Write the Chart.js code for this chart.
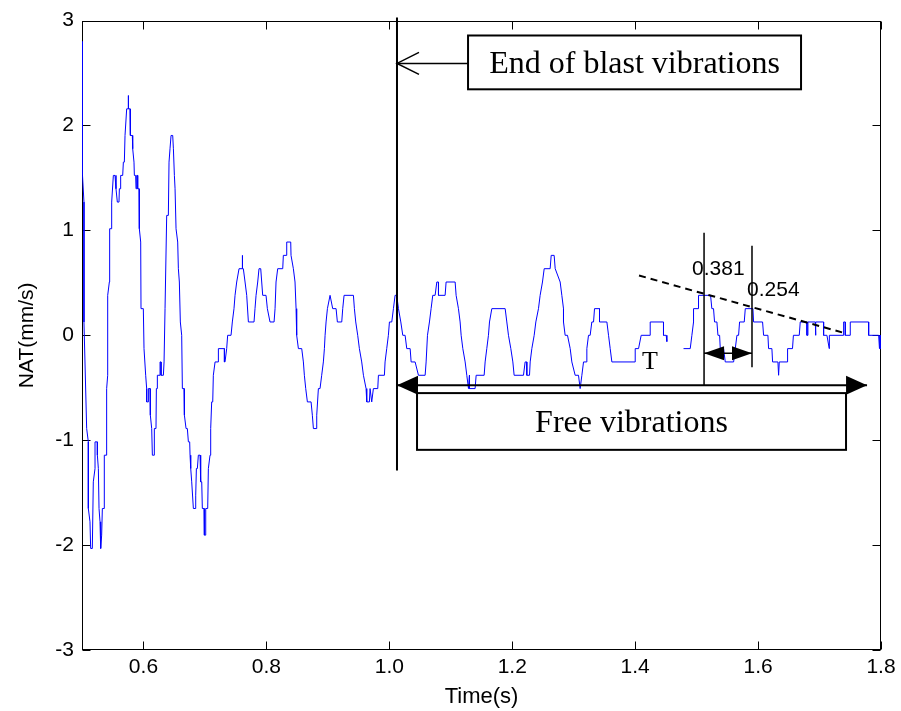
<!DOCTYPE html>
<html>
<head>
<meta charset="utf-8">
<script src="https://cdn.jsdelivr.net/npm/chart.js"></script>
<style>
html,body{margin:0;padding:0;background:#fff;}
canvas{display:block;}
</style>
</head>
<body>
<canvas id="c" width="901" height="711"></canvas>
<script>
// ---- data (time in s, NAT in mm/s) ----
const times = [
0.5004,0.5008,0.5032,0.5032,0.5076,0.5103,0.5103,0.5130,0.5141,0.5168,
0.5184,0.5212,0.5212,0.5250,0.5250,0.5266,0.5277,0.5293,0.5304,0.5320,
0.5331,0.5363,0.5363,0.5391,0.5401,0.5418,0.5418,0.5445,0.5450,0.5472,
0.5483,0.5510,0.5537,0.5553,0.5575,0.5602,0.5608,0.5629,0.5629,0.5662,
0.5673,0.5689,0.5700,0.5727,0.5754,0.5754,0.5756,0.5781,0.5787,0.5819,
0.5825,0.5846,0.5852,0.5873,0.5879,0.5890,0.5906,0.5906,0.5928,0.5933,
0.5955,0.5960,0.5998,0.6009,0.6025,0.6036,0.6052,0.6052,0.6080,0.6080,
0.6107,0.6112,0.6134,0.6145,0.6177,0.6177,0.6204,0.6210,0.6226,0.6226,
0.6270,0.6270,0.6286,0.6286,0.6324,0.6335,0.6351,0.6378,0.6405,0.6416,
0.6432,0.6449,0.6476,0.6487,0.6503,0.6514,0.6530,0.6557,0.6568,0.6584,
0.6600,0.6622,0.6633,0.6660,0.6666,0.6693,0.6714,0.6731,0.6752,0.6758,
0.6769,0.6785,0.6812,0.6839,0.6850,0.6861,0.6877,0.6893,0.6921,0.6931,
0.6948,0.6958,0.6986,0.6991,0.7013,0.7013,0.7045,0.7056,0.7083,0.7094,
0.7110,0.7127,0.7137,0.7165,0.7219,0.7219,0.7317,0.7317,
0.7327,0.7354,0.7370,0.7425,0.7446,0.7473,0.7490,0.7517,0.7555,0.7609,
0.7609,0.7612,0.7625,0.7653,0.7680,0.7707,0.7799,0.7815,0.7832,0.7859,
0.7880,0.7908,0.7924,0.7940,0.7994,0.8016,0.8059,0.8125,0.8141,0.8157,
0.8184,0.8266,0.8276,0.8331,0.8331,0.8396,0.8401,0.8439,0.8466,0.8483,
0.8493,0.8521,0.8575,0.8602,0.8618,0.8640,0.8667,0.8727,0.8748,0.8765,
0.8808,0.8819,0.8846,0.8873,0.8900,0.8927,0.8944,0.8955,0.8971,0.8993,
0.9036,0.9079,0.9134,0.9155,0.9226,0.9242,0.9264,0.9416,0.9432,0.9454,
0.9486,0.9513,0.9551,0.9579,0.9622,0.9633,0.9676,0.9687,0.9714,0.9741,
0.9812,0.9823,0.9920,0.9931,0.9958,0.9985,1.0002,1.0040,1.0067,1.0094,
1.0121,
1.0149,1.0187,1.0219,1.0257,1.0284,1.0339,1.0355,1.0420,1.0474,1.0583,
1.0599,1.0621,1.0653,1.0680,1.0707,1.0745,1.0773,1.0800,1.0800,1.0908,
1.0924,1.1071,1.1087,1.1125,1.1152,1.1169,1.1196,1.1234,1.1261,1.1288,
1.1304,1.1304,1.1396,1.1413,1.1543,1.1559,1.1586,1.1613,1.1630,1.1668,
1.1885,1.1912,1.1939,1.1977,1.2010,1.2031,1.2183,1.2210,1.2237,1.2237,
1.2281,1.2292,1.2319,1.2357,1.2384,1.2427,1.2454,1.2492,1.2520,1.2617,
1.2634,1.2682,1.2699,1.2780,1.2807,1.2834,1.2834,1.2861,1.2899,1.2943,
1.2970,1.3024,1.3078,1.3105,1.3133,1.3160,1.3203,1.3214,1.3241,1.3268,
1.3295,1.3323,1.3339,1.3420,1.3420,1.3540,1.3567,1.3594,1.3621,1.4000,
1.4001,1.4055,1.4098,1.4245,1.4245,1.4461,1.4461,1.4505,1.4516,1.4650,
1.4787,1.4896,1.4923,1.4950,1.4950,1.5031,1.5031,1.5227,1.5248,1.5275,
1.5292,1.5330,1.5347,1.5374,1.5385,1.5439,1.5466,1.5602,1.5629,1.5656,
1.5683,1.5699,1.5775,1.5792,1.5916,1.5927,1.6073,1.6090,1.6160,1.6171,
1.6225,1.6236,1.6323,1.6334,1.6345,1.6480,1.6480,1.6560,1.6575,1.6670,
1.6686,1.6795,1.6795,1.6811,1.6811,1.6931,1.6931,1.6941,1.6941,1.7066,
1.7066,1.7120,1.7158,1.7160,1.7392,1.7392,1.7419,1.7419,1.7500,1.7500,
1.7799,1.7799,1.7962,1.7975,1.7980,1.7985,1.7990,1.7995,1.8000
];
const nat = [
2.80,1.524,1.27,0.127,-0.889,-1.016,-1.651,-1.778,-2.032,-2.032,
-1.397,-1.27,-1.016,-1.016,-1.143,-1.27,-1.651,-1.778,-2.032,-1.905,
-1.651,-1.651,-1.143,-1.143,-0.508,-0.381,0.381,0.508,1.016,1.016,
1.27,1.524,1.524,1.397,1.27,1.27,1.397,1.397,1.524,1.524,
1.651,1.651,1.905,2.159,2.159,2.286,2.159,2.159,1.905,1.905,
1.778,1.651,1.524,1.524,1.397,1.524,1.524,1.397,1.397,1.016,
0.889,0.254,0.254,-0.127,-0.127,-0.381,-0.508,-0.635,-0.635,-0.508,
-0.508,-0.762,-0.889,-1.143,-1.143,-0.889,-0.889,-0.508,-0.508,-0.381,
-0.381,-0.254,-0.254,-0.381,-0.381,-0.254,0.254,1.143,1.143,1.651,
1.778,1.905,1.905,1.778,1.524,1.397,1.016,0.889,0.635,0.508,
0.127,0,-0.508,-0.508,-0.762,-0.889,-0.889,-1.016,-1.016,-1.143,
-1.27,-1.397,-1.651,-1.651,-1.524,-1.27,-1.27,-1.143,-1.143,-1.397,
-1.397,-1.651,-1.651,-1.905,-1.905,-1.651,-1.651,-1.27,-1.143,-0.889,
-0.635,-0.635,-0.381,-0.254,-0.254,-0.127,-0.127,-0.254,
-0.254,-0.127,0,0,0.127,0.254,0.381,0.508,0.635,0.635,
0.762,0.635,0.635,0.508,0.381,0.127,0.127,0.254,0.381,0.508,
0.635,0.635,0.508,0.381,0.381,0.254,0.127,0.127,0.254,0.508,
0.635,0.635,0.762,0.762,0.889,0.889,0.762,0.635,0.508,0.254,
0,-0.127,-0.127,-0.254,-0.381,-0.508,-0.635,-0.635,-0.762,-0.889,
-0.889,-0.762,-0.508,-0.508,-0.381,-0.254,-0.127,0,0.127,0.254,
0.381,0.254,0.254,0.127,0.127,0.254,0.381,0.381,0.254,0.127,
0,-0.127,-0.254,-0.381,-0.508,-0.635,-0.635,-0.508,-0.635,-0.508,
-0.508,-0.381,-0.381,-0.254,-0.127,0,0.127,0.127,0.254,0.381,
0.381,
0.254,0.127,0,0,-0.127,-0.127,-0.254,-0.254,-0.381,-0.381,
-0.254,0,0.127,0.254,0.381,0.381,0.508,0.508,0.381,0.381,
0.508,0.508,0.381,0.254,0.127,0,-0.127,-0.254,-0.381,-0.508,
-0.381,-0.508,-0.508,-0.381,-0.381,-0.254,-0.127,0,0.127,0.254,
0.254,0.127,0,-0.127,-0.254,-0.381,-0.381,-0.254,-0.254,-0.381,
-0.381,-0.254,-0.127,0,0.127,0.254,0.381,0.508,0.635,0.635,
0.762,0.762,0.635,0.508,0.381,0.254,0.127,0,0,-0.127,
-0.254,-0.381,-0.381,-0.508,-0.381,-0.254,-0.254,-0.127,0,0,
0.127,0.127,0.254,0.254,0.127,0.127,0,-0.127,-0.254,-0.254,
-0.127,-0.127,0,0,0.127,0.127,0,0,-0.06,null,
-0.127,-0.127,0,0.127,0.254,0.254,0.381,0.381,0.254,0.254,
0.127,0.127,0,0,-0.127,-0.127,-0.254,-0.254,-0.127,0,
0,0.127,0.127,0.254,0.254,0.127,0.127,0,0,-0.127,
-0.127,-0.254,-0.254,-0.381,-0.254,-0.254,-0.127,-0.127,0,0,
0.127,0.127,0,0,0.127,0.127,0,0,0.127,0.127,
0,0,-0.127,0,0,0.127,0.127,0,0,0.127,
0.127,0,0,-0.127,0,-0.127,0,-0.127,-0.127
];
const xTicks = [0.6, 0.8, 1.0, 1.2, 1.4, 1.6, 1.8];
const yTicks = [-3, -2, -1, 0, 1, 2, 3];
const xLabel = 'Time(s)';
const yLabel = 'NAT(mm/s)';

const points = times.map((t, i) => ({x: t, y: nat[i]}));

// ---- decorations: MATLAB-style box, inward ticks and annotations ----
function arrowHead(ctx, tipX, tipY, dir, len, half, filled) {
  ctx.beginPath();
  ctx.moveTo(tipX + dir * len, tipY - half);
  ctx.lineTo(tipX, tipY);
  ctx.lineTo(tipX + dir * len, tipY + half);
  if (filled) { ctx.closePath(); ctx.fill(); } else { ctx.stroke(); }
}

const frame = {
  id: 'frame',
  beforeDatasetsDraw(chart) {
    const {ctx, chartArea: a, scales: {x, y}} = chart;
    const L = Math.round(a.left) + 0.5, R = Math.round(a.right) - 0.5;
    const T = Math.round(a.top) + 0.5, B = Math.round(a.bottom) - 0.5;
    ctx.save();
    ctx.strokeStyle = '#000';
    ctx.lineWidth = 1;
    ctx.strokeRect(L, T, R - L, B - T);
    const tk = 8;
    ctx.beginPath();
    xTicks.forEach(v => {
      const px = Math.round(x.getPixelForValue(v)) + 0.5;
      ctx.moveTo(px, B); ctx.lineTo(px, B - tk);
      ctx.moveTo(px, T); ctx.lineTo(px, T + tk);
    });
    yTicks.forEach(v => {
      const py = Math.round(y.getPixelForValue(v)) + 0.5;
      ctx.moveTo(L, py); ctx.lineTo(L + tk, py);
      ctx.moveTo(R, py); ctx.lineTo(R - tk, py);
    });
    ctx.stroke();
    ctx.restore();
  }
};

const overlay = {
  id: 'overlay',
  afterDatasetsDraw(chart) {
    const {ctx, scales: {x, y}} = chart;
    const X = v => x.getPixelForValue(v);
    const Y = v => y.getPixelForValue(v);
    ctx.save();
    ctx.strokeStyle = '#000';
    ctx.fillStyle = '#000';
    ctx.setLineDash([]);

    // end of blast vibrations marker
    const tEnd = 1.0125;
    ctx.lineWidth = 2;
    ctx.beginPath();
    ctx.moveTo(X(tEnd), Y(3.03)); ctx.lineTo(X(tEnd), Y(-1.29));
    ctx.stroke();
    // box with label
    const b1 = {x0: 1.1281, x1: 1.6699, y0: 2.858, y1: 2.345};
    ctx.strokeRect(X(b1.x0), Y(b1.y0), X(b1.x1) - X(b1.x0), Y(b1.y1) - Y(b1.y0));
    ctx.font = '32px "Liberation Serif", "Times New Roman", serif';
    ctx.textAlign = 'center';
    ctx.textBaseline = 'middle';
    ctx.fillText('End of blast vibrations', (X(b1.x0) + X(b1.x1)) / 2, (Y(b1.y0) + Y(b1.y1)) / 2 + 2);
    // open arrow from box to marker
    ctx.lineWidth = 1.5;
    const ay = Y(2.592);
    ctx.beginPath();
    ctx.moveTo(X(b1.x0), ay); ctx.lineTo(X(tEnd), ay);
    ctx.stroke();
    arrowHead(ctx, X(tEnd), ay, 1, 22, 11, false);

    // free vibrations double arrow and box
    const fy = Y(-0.475);
    ctx.lineWidth = 2;
    ctx.beginPath();
    ctx.moveTo(X(tEnd), fy); ctx.lineTo(X(1.7773), fy);
    ctx.stroke();
    arrowHead(ctx, X(tEnd), fy, 1, 21, 9.5, true);
    arrowHead(ctx, X(1.7773), fy, -1, 21, 9.5, true);
    const b2 = {x0: 1.0451, x1: 1.7431, y0: -0.551, y1: -1.092};
    ctx.strokeRect(X(b2.x0), Y(b2.y0), X(b2.x1) - X(b2.x0), Y(b2.y1) - Y(b2.y0));
    ctx.fillText('Free vibrations', (X(b2.x0) + X(b2.x1)) / 2, (Y(b2.y0) + Y(b2.y1)) / 2 + 2);

    // period marker lines
    const tA = 1.5121, tB = 1.5901;
    ctx.lineWidth = 1.5;
    ctx.beginPath();
    ctx.moveTo(X(tA), Y(0.978)); ctx.lineTo(X(tA), fy);
    ctx.moveTo(X(tB), Y(0.854)); ctx.lineTo(X(tB), Y(-0.304));
    ctx.stroke();
    const sy = Y(-0.171);
    ctx.beginPath();
    ctx.moveTo(X(tA), sy); ctx.lineTo(X(tB), sy);
    ctx.stroke();
    arrowHead(ctx, X(tA), sy, 1, 20, 7, true);
    arrowHead(ctx, X(tB), sy, -1, 20, 7, true);

    // decay envelope (dashed)
    ctx.setLineDash([7, 5]);
    ctx.lineWidth = 2;
    ctx.beginPath();
    ctx.moveTo(X(1.4063), Y(0.570)); ctx.lineTo(X(1.7366), Y(0.028));
    ctx.stroke();
    ctx.setLineDash([]);

    // labels
    ctx.textAlign = 'left';
    ctx.textBaseline = 'alphabetic';
    ctx.font = '21px "Liberation Sans", Arial, sans-serif';
    ctx.fillText('0.381', X(1.4925), Y(0.579));
    ctx.fillText('0.254', X(1.5820), Y(0.370));
    ctx.font = '26px "Liberation Serif", "Times New Roman", serif';
    ctx.fillText('T', X(1.4112), Y(-0.323));
    ctx.restore();
  }
};

const tickFont = {family: '"Liberation Sans", Arial, sans-serif', size: 21};

new Chart(document.getElementById('c'), {
  type: 'line',
  data: {
    datasets: [{
      data: points,
      borderColor: '#0000ff',
      borderWidth: 1,
      pointRadius: 0,
      tension: 0,
      fill: false,
      spanGaps: false
    }]
  },
  options: {
    responsive: false,
    animation: false,
    devicePixelRatio: 1,
    layout: {padding: {top: 18, right: 20, left: 0, bottom: 0}},
    plugins: {legend: {display: false}, tooltip: {enabled: false}},
    scales: {
      x: {
        type: 'linear', min: 0.5, max: 1.8,
        grid: {display: false, drawTicks: false}, border: {display: false},
        afterBuildTicks: s => { s.ticks = xTicks.map(v => ({value: v})); },
        afterFit: s => { s.height = 61; },
        ticks: {color: '#000', font: tickFont, padding: 5, maxRotation: 0, autoSkip: false},
        title: {display: true, text: xLabel, color: '#000',
                font: {family: '"Liberation Sans", Arial, sans-serif', size: 22},
                padding: {top: 0, bottom: 1}}
      },
      y: {
        type: 'linear', min: -3, max: 3,
        grid: {display: false, drawTicks: false}, border: {display: false},
        afterBuildTicks: s => { s.ticks = yTicks.map(v => ({value: v})); },
        afterFit: s => { s.width = 82; },
        ticks: {color: '#000', font: tickFont, padding: 8, autoSkip: false},
        title: {display: true, text: yLabel, color: '#000',
                font: {family: '"Liberation Sans", Arial, sans-serif', size: 21},
                padding: {top: 15, bottom: 0}}
      }
    }
  },
  plugins: [frame, overlay]
});
</script>
</body>
</html>
